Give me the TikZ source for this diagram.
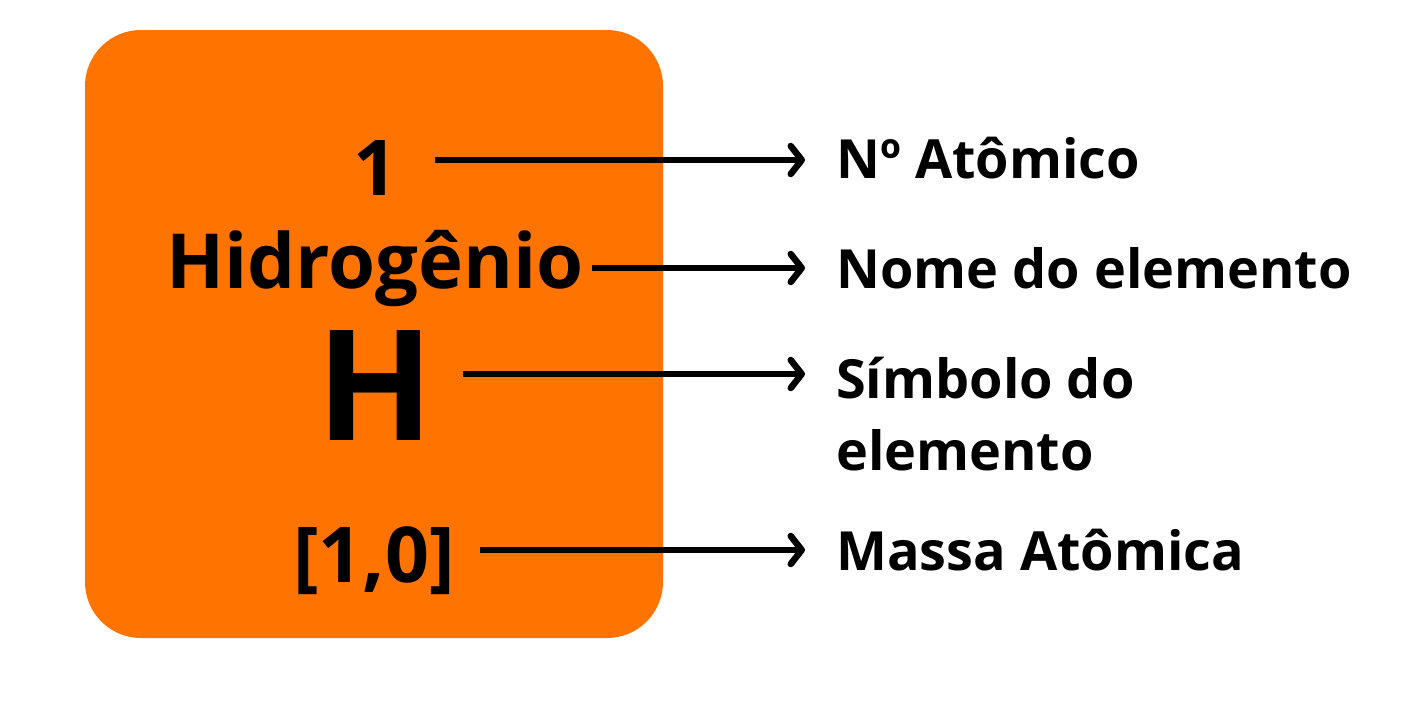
\documentclass[tikz,border=0pt]{standalone}
\usepackage{fontspec}
\setmainfont{Open Sans}
\usetikzlibrary{arrows.meta, positioning}
\definecolor{cardorange}{HTML}{FF7400}
\tikzset{
  card/.style  = {fill=cardorange, rounded corners=56},
  ray/.style   = {-{Straight Barb[length=11pt, width=28pt, round]}, line width=6.5pt, black},
  lbl/.style   = {font=\bfseries\fontsize{54}{72}\selectfont, anchor=base west, inner sep=0pt, align=left},
  cell/.style  = {font=\bfseries\fontsize{77}{80}\selectfont, anchor=base, inner sep=0pt},
}
\begin{document}
\begin{tikzpicture}[x=1pt, y=-1pt]
  \useasboundingbox (0,0) rectangle (1414,710);
  % element card
  \fill[card] (85,30) rectangle (663,638);
  \node[cell] (num)  at (375,195) {1};
  \node[cell, font=\bfseries\fontsize{76}{80}\selectfont] (name) at (375,288) {Hidrogênio};
  \node[cell, font=\bfseries\fontsize{154}{160}\selectfont] (sym) at (375,440) {H};
  \node[cell] (mass) at (374,582) {[1,0]};
  % labels
  \node[lbl] (lnum)  at (836,178) {Nº Atômico};
  \node[lbl] (lname) at (836,288) {Nome do elemento};
  \node[lbl] (lsym)  at (836,470) {Símbolo do\\elemento};
  \node[lbl] (lmass) at (836,570) {Massa Atômica};
  % arrow starts
  \coordinate (snum)  at (435,160);
  \coordinate (sname) at (592,268);
  \coordinate (ssym)  at (463,374);
  \coordinate (smass) at (480,550);
  \draw[ray] (snum)  -- ([xshift=-31pt]snum -| lnum.west);
  \draw[ray] (sname) -- ([xshift=-31pt]sname -| lname.west);
  \draw[ray] (ssym)  -- ([xshift=-31pt]ssym -| lsym.west);
  \draw[ray] (smass) -- ([xshift=-31pt]smass -| lmass.west);
\end{tikzpicture}
\end{document}
